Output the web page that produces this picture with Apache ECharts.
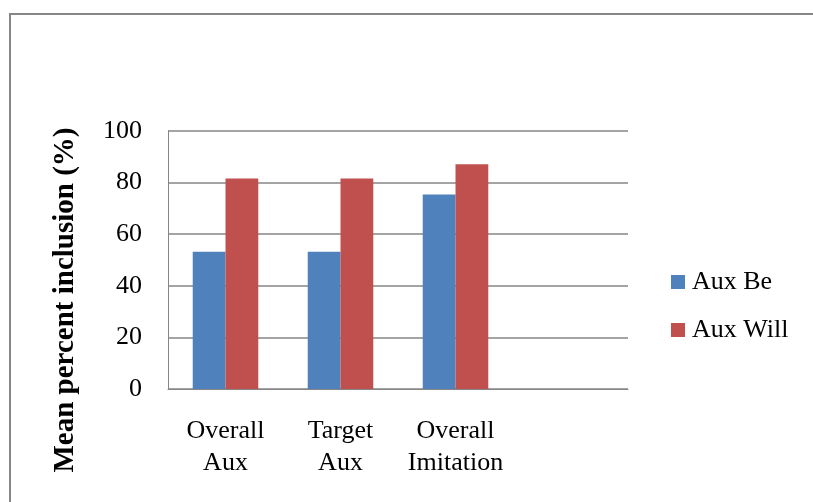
<!DOCTYPE html>
<html>
<head>
<meta charset="utf-8">
<script src="https://cdn.jsdelivr.net/npm/echarts@6/dist/echarts.min.js"></script>
<style>
  html, body { margin: 0; padding: 0; background: #fff; }
  #chart { width: 813px; height: 502px; }
</style>
</head>
<body>
<div id="chart"></div>
<script>
// Categories along the x axis (last slot is left empty)
const categories = ['Overall\nAux', 'Target\nAux', 'Overall\nImitation', ''];
// Mean percent inclusion per condition
const auxBe = [53.2, 53.2, 75.4, null];
const auxWill = [81.6, 81.6, 87.1, null];
// Value-axis ticks
const yTicks = [0, 20, 40, 60, 80, 100];

const serif = '"Liberation Serif", "Times New Roman", serif';
const gridColor = '#868686';

const chart = echarts.init(document.getElementById('chart'), null, { renderer: 'canvas' });

chart.setOption({
  backgroundColor: '#ffffff',
  animation: false,
  grid: { left: 168, right: 185, top: 131, bottom: 113 },
  graphic: [
    {
      type: 'rect',
      shape: { x: 10, y: 14, width: 900, height: 600 },
      style: { fill: 'none', stroke: gridColor, lineWidth: 2 },
      silent: true
    },
    {
      type: 'text',
      x: 66,
      y: 300,
      rotation: Math.PI / 2,
      style: {
        text: 'Mean percent inclusion (%)',
        font: 'bold 29px ' + serif,
        fill: '#000',
        textAlign: 'center',
        textVerticalAlign: 'middle'
      },
      silent: true
    }
  ],
  legend: {
    orient: 'vertical',
    left: 671,
    top: 269,
    padding: 0,
    itemWidth: 14,
    itemHeight: 14,
    itemGap: 22,
    icon: 'rect',
    textStyle: { fontFamily: serif, fontSize: 26, color: '#000', lineHeight: 25, padding: [0, 0, 0, 2] },
    data: ['Aux Be', 'Aux Will']
  },
  xAxis: {
    type: 'category',
    data: categories,
    axisLine: { show: true, lineStyle: { color: gridColor, width: 1 } },
    axisTick: { show: false },
    axisLabel: {
      interval: 0,
      margin: 26,
      fontFamily: serif,
      fontSize: 26,
      lineHeight: 32,
      color: '#000'
    }
  },
  yAxis: {
    type: 'value',
    min: yTicks[0],
    max: yTicks[yTicks.length - 1],
    interval: yTicks[1] - yTicks[0],
    axisLine: { show: true, lineStyle: { color: gridColor, width: 1 } },
    axisTick: { show: false },
    splitLine: { show: true, lineStyle: { color: gridColor, width: 1.5 } },
    axisLabel: {
      margin: 26,
      fontFamily: serif,
      fontSize: 26,
      color: '#000'
    }
  },
  series: [
    {
      name: 'Aux Be',
      type: 'bar',
      data: auxBe,
      itemStyle: { color: '#4F81BD' },
      barGap: '0%',
      barCategoryGap: '43%'
    },
    {
      name: 'Aux Will',
      type: 'bar',
      data: auxWill,
      itemStyle: { color: '#C0504D' },
      barGap: '0%',
      barCategoryGap: '43%'
    }
  ]
});
</script>
</body>
</html>
